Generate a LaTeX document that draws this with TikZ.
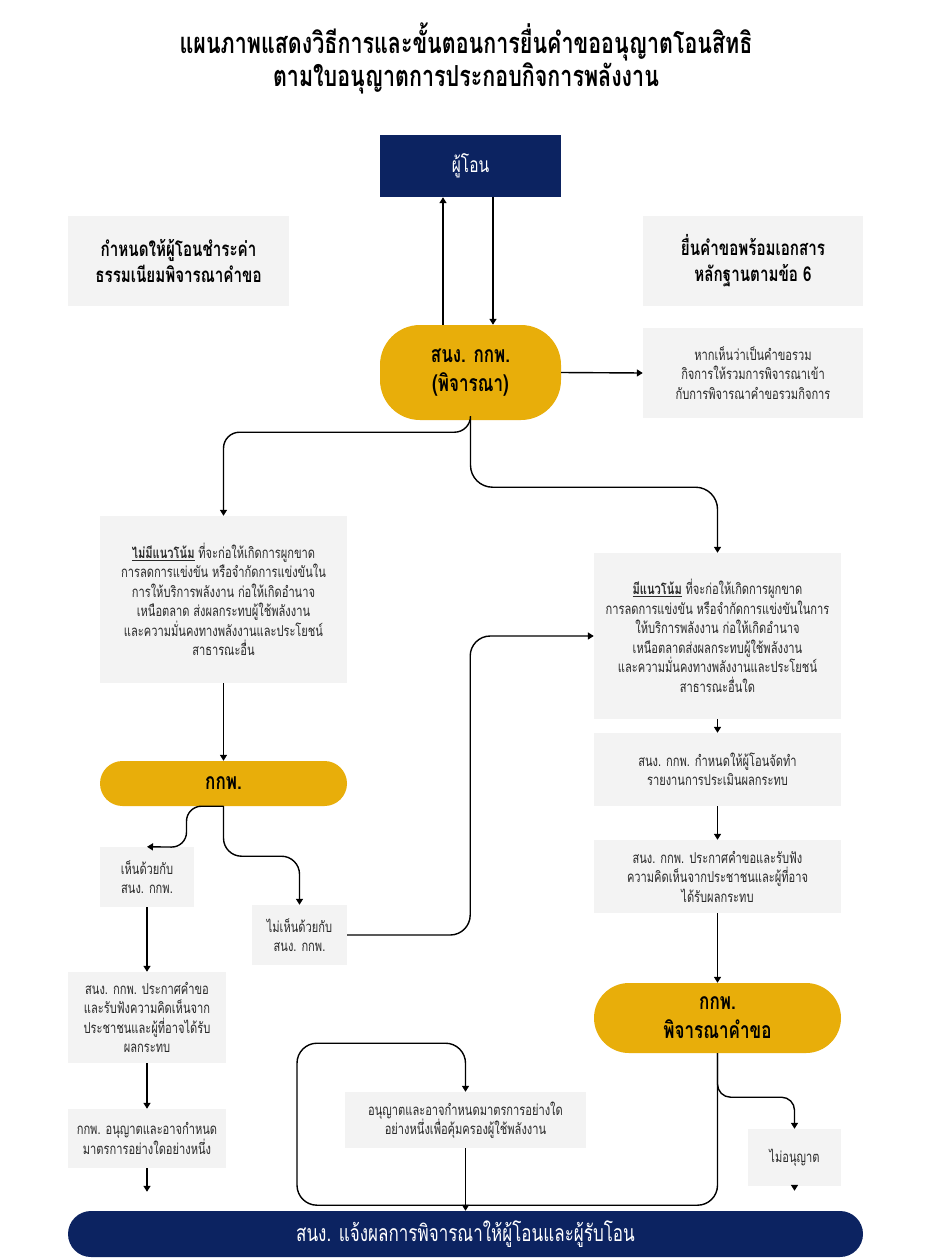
\documentclass[tikz,border=0pt]{standalone}
\usepackage{fontspec}
\setmainfont[Script=Thai,FakeStretch=0.74]{Loma}
\usetikzlibrary{arrows.meta}
\definecolor{navy}{RGB}{12,35,97}
\definecolor{gold}{RGB}{232,174,10}
\definecolor{boxgrey}{RGB}{243,243,243}
\definecolor{txtgrey}{RGB}{40,40,40}
\tikzset{
  greybox/.style={fill=boxgrey, align=center, inner sep=0pt},
  smalltext/.style={text=txtgrey, font=\fontsize{15}{19.5}\selectfont},
  bigtext/.style={font=\bfseries\fontsize{20.5}{26}\selectfont},
  goldbox/.style={fill=gold, align=center, inner sep=0pt, font=\bfseries\fontsize{23}{29}\selectfont},
  navybox/.style={fill=navy, text=white, align=center, inner sep=0pt},
  conn/.style={line width=1.4pt, -{Triangle[width=7pt,length=6pt]}},
}
\begin{document}
\begin{tikzpicture}[x=1pt,y=-1pt]
    \useasboundingbox[fill=white] (0,0) rectangle (933,1258);

    % title
    \node[align=center, font=\bfseries\fontsize{29}{33}\selectfont] (title) at (466,58)
        {แผนภาพแสดงวิธีการและขั้นตอนการยื่นคำขออนุญาตโอนสิทธิ\\ตามใบอนุญาตการประกอบกิจการพลังงาน};

    % top part
    \node[navybox, minimum width=181pt, minimum height=62pt, font=\fontsize{21}{26}\selectfont] (giver) at (470.5,166) {ผู้โอน};
    \node[greybox, bigtext, minimum width=221pt, minimum height=90pt] (fee) at (178.5,261) {กำหนดให้ผู้โอนชำระค่า\\ธรรมเนียมพิจารณาคำขอ};
    \node[greybox, bigtext, minimum width=220pt, minimum height=90pt] (docs) at (753,261) {ยื่นคำขอพร้อมเอกสาร\\หลักฐานตามข้อ 6};
    \node[goldbox, rounded corners=40pt, minimum width=181pt, minimum height=95pt] (office) at (470.5,372.5) {สนง. กกพ.\\(พิจารณา)};
    \node[greybox, smalltext, minimum width=220pt, minimum height=90pt] (merge) at (753,373) {หากเห็นว่าเป็นคำขอรวม\\กิจการให้รวมการพิจารณาเข้า\\กับการพิจารณาคำขอรวมกิจการ};

    % left column
    \node[greybox, smalltext, minimum width=247pt, minimum height=167pt] (notrend) at (223.5,599.5)
        {\underline{\textbf{ไม่มีแนวโน้ม}} ที่จะก่อให้เกิดการผูกขาด\\การลดการแข่งขัน หรือจำกัดการแข่งขันใน\\การให้บริการพลังงาน ก่อให้เกิดอำนาจ\\เหนือตลาด ส่งผลกระทบผู้ใช้พลังงาน\\และความมั่นคงทางพลังงานและประโยชน์\\สาธารณะอื่น};
    \node[goldbox, rounded corners=22.5pt, minimum width=247pt, minimum height=45pt] (erc) at (223.5,783.5) {กกพ.};
    \node[greybox, smalltext, minimum width=94pt, minimum height=60pt] (agree) at (147,877) {เห็นด้วยกับ\\สนง. กกพ.};
    \node[greybox, smalltext, minimum width=95pt, minimum height=60pt] (disagree) at (299.5,935) {ไม่เห็นด้วยกับ\\สนง. กกพ.};
    \node[greybox, smalltext, minimum width=158pt, minimum height=91pt] (hearl) at (147,1017.5) {สนง. กกพ. ประกาศคำขอ\\และรับฟังความคิดเห็นจาก\\ประชาชนและผู้ที่อาจได้รับ\\ผลกระทบ};
    \node[greybox, smalltext, minimum width=158pt, minimum height=59pt] (permitl) at (147,1138.5) {กกพ. อนุญาตและอาจกำหนด\\มาตรการอย่างใดอย่างหนึ่ง};

    % right column
    \node[greybox, smalltext, minimum width=247pt, minimum height=166pt] (trend) at (717.5,636)
        {\underline{\textbf{มีแนวโน้ม}} ที่จะก่อให้เกิดการผูกขาด\\การลดการแข่งขัน หรือจำกัดการแข่งขันในการ\\ให้บริการพลังงาน ก่อให้เกิดอำนาจ\\เหนือตลาดส่งผลกระทบผู้ใช้พลังงาน\\และความมั่นคงทางพลังงานและประโยชน์\\สาธารณะอื่นใด};
    \node[greybox, smalltext, minimum width=247pt, minimum height=73pt] (report) at (717.5,769.5) {สนง. กกพ. กำหนดให้ผู้โอนจัดทำ\\รายงานการประเมินผลกระทบ};
    \node[greybox, smalltext, minimum width=247pt, minimum height=73pt] (hearr) at (717.5,876.5) {สนง. กกพ. ประกาศคำขอและรับฟัง\\ความคิดเห็นจากประชาชนและผู้ที่อาจ\\ได้รับผลกระทบ};
    \node[goldbox, rounded corners=35pt, minimum width=247pt, minimum height=70pt] (ercr) at (717.5,1018) {กกพ.\\พิจารณาคำขอ};
    \node[greybox, smalltext, minimum width=241pt, minimum height=56pt] (permitr) at (465.5,1120) {อนุญาตและอาจกำหนดมาตรการอย่างใด\\อย่างหนึ่งเพื่อคุ้มครองผู้ใช้พลังงาน};
    \node[greybox, smalltext, minimum width=93pt, minimum height=57pt] (deny) at (794.5,1157.5) {ไม่อนุญาต};

    % bottom bar
    \node[navybox, rounded corners=23pt, minimum width=795pt, minimum height=46pt, font=\fontsize{23}{26}\selectfont] (bar) at (465.5,1234) {สนง. แจ้งผลการพิจารณาให้ผู้โอนและผู้รับโอน};

    % connectors
    \draw[conn] ([xshift=-27.5pt]office.north) -- ([xshift=-27.5pt]giver.south);
    \draw[conn] ([xshift=22.5pt]giver.south) -- ([xshift=22.5pt]office.north);
    \draw[conn] (office.east) -- (merge.west);
    \draw[conn, rounded corners=16pt] (office.south) -- ++(0,12) -| (notrend.north);
    \draw[conn, rounded corners=22pt] (office.south) -- ++(0,67) -| (trend.north);
    \draw[conn] (notrend) -- (erc);
    \draw[conn, rounded corners=15pt] (erc.south) -- ++(-37,0) -- ++(0,41) -- (agree.north);
    \draw[conn, rounded corners=18pt] (erc.south) -- ++(0,50) -| (disagree.north);
    \draw[conn] (agree) -- (hearl);
    \draw[conn] (hearl) -- (permitl);
    \draw[conn, shorten >=19pt] (permitl.south) -- (permitl.south |- bar.north);
    \draw[conn, rounded corners=20pt] (disagree.east) -- ++(123,0) |- (trend.west);
    \draw[conn] (trend) -- (report);
    \draw[conn] (report) -- (hearr);
    \draw[conn] (hearr) -- (ercr);
    \draw[conn, rounded corners=20pt] (ercr.south) -- ++(0,152) -- ++(-420.5,0) -- ++(0,-162) -| (permitr.north);
    \draw[conn, rounded corners=13pt] (ercr.south) -- ++(0,44) -| (deny.north);
    \draw[conn, shorten >=20pt] (deny.south) -- (deny.south |- bar.north);
    \draw[conn] (permitr) -- (bar);
\end{tikzpicture}
\end{document}
